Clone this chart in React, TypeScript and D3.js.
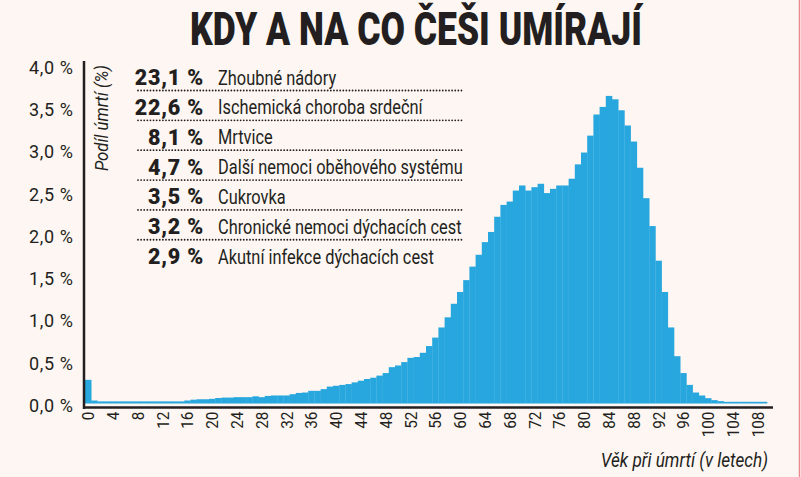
import React, { useEffect, useRef } from 'react';
import * as d3 from 'd3';

// share of deaths (%) by age at death, ages 0..109
const ages: number[] = d3.range(0, 110);
const deathShare: number[] = [
  0.28, 0.035, 0.025, 0.025, 0.025, 0.025, 0.025, 0.025, 0.025, 0.025,
  0.025, 0.025, 0.025, 0.025, 0.025, 0.025, 0.035, 0.045, 0.05, 0.05,
  0.055, 0.065, 0.07, 0.07, 0.075, 0.075, 0.075, 0.085, 0.075, 0.09,
  0.095, 0.095, 0.095, 0.11, 0.125, 0.13, 0.15, 0.15, 0.17, 0.2,
  0.21, 0.22, 0.23, 0.25, 0.27, 0.29, 0.305, 0.33, 0.36, 0.43,
  0.45, 0.49, 0.54, 0.55, 0.6, 0.68, 0.78, 0.9, 1.02, 1.18,
  1.32, 1.46, 1.62, 1.76, 1.91, 2.03, 2.21, 2.35, 2.39, 2.52,
  2.58, 2.52, 2.56, 2.6, 2.49, 2.54, 2.58, 2.58, 2.66, 2.83,
  2.97, 3.17, 3.42, 3.51, 3.64, 3.6, 3.47, 3.29, 3.1, 2.79,
  2.43, 2.1, 1.69, 1.32, 0.9, 0.56, 0.36, 0.22, 0.13, 0.095,
  0.063, 0.04, 0.028, 0.02, 0.02, 0.02, 0.02, 0.02, 0.02, 0.02,
];

const yTicks = [0, 0.5, 1, 1.5, 2, 2.5, 3, 3.5, 4];
const xTicks = [0, 4, 8, 12, 16, 20, 24, 28, 32, 36, 40, 44, 48, 52, 56, 60, 64, 68, 72, 76, 80, 84, 88, 92, 96, 100, 104, 108];

const causeShares = [23.1, 22.6, 8.1, 4.7, 3.5, 3.2, 2.9];
const causeNames = [
  'Zhoubné nádory',
  'Ischemická choroba srdeční',
  'Mrtvice',
  'Další nemoci oběhového systému',
  'Cukrovka',
  'Chronické nemoci dýchacích cest',
  'Akutní infekce dýchacích cest',
];

const W = 801;
const H = 477;
const ink = '#231f20';
const barColor = '#27a7de';
const font = 'Roboto, "Open Sans", sans-serif';

const pct = (v: number) => d3.format('.1f')(v).replace('.', ',') + ' %';

const App = () => {
  const xAxisRef = useRef<SVGGElement>(null);
  const yAxisRef = useRef<SVGGElement>(null);

  const x = d3.scaleBand<number>().domain(ages).range([85, 767]).padding(0);
  const y = d3.scaleLinear().domain([0, 4]).range([403.5, 65.5]);

  useEffect(() => {
    const ya = d3.select(yAxisRef.current);
    ya.selectAll('*').remove();
    ya.call(d3.axisLeft(y).tickValues(yTicks).tickSize(0).tickPadding(0).tickFormat(d => pct(+d)));
    ya.select('.domain').remove();
    ya.selectAll('text')
      .attr('fill', ink)
      .attr('font-family', font)
      .attr('font-size', 18)
      .attr('dy', '0.36em')
      .attr('textLength', 44)
      .attr('lengthAdjust', 'spacing');

    const xa = d3.select(xAxisRef.current);
    xa.selectAll('*').remove();
    xa.call(d3.axisBottom(x).tickValues(xTicks).tickSize(0).tickPadding(0));
    xa.select('.domain').remove();
    xa.selectAll('text')
      .attr('fill', ink)
      .attr('font-family', font)
      .attr('font-size', 17)
      .attr('transform', 'rotate(-90) scale(0.9,1)')
      .attr('text-anchor', 'end')
      .attr('x', -4)
      .attr('y', 0)
      .attr('dy', '0.36em');
  }, []);

  const rowY = (i: number) => 85 + i * 29.85;

  return (
    <svg width={W} height={H} style={{ position: 'absolute', left: 0, top: 0 }}>
      <rect width={W} height={H} fill="#fdf6f2" />
      <line x1={799.5} x2={799.5} y1={0} y2={H} stroke="#e98a8e" strokeWidth={1.5} />

      <text x={416} y={45} textAnchor="middle" fontFamily={font} fontWeight={900}
        fontSize={47} fill={ink} textLength={452} lengthAdjust="spacingAndGlyphs">
        KDY A NA CO ČEŠI UMÍRAJÍ
      </text>

      {deathShare.map((v, i) => (
        <rect key={i} x={x(ages[i])!} width={x.bandwidth() + 0.3} y={y(v)} height={y(0) - y(v)} fill={barColor} />
      ))}

      <line x1={84} x2={84} y1={61} y2={409} stroke={ink} strokeWidth={2.5} />
      <line x1={83} x2={773} y1={407.5} y2={407.5} stroke={ink} strokeWidth={2.5} />

      <g ref={yAxisRef} transform="translate(73,1.5)" />
      <g ref={xAxisRef} transform="translate(0,408)" />

      <text transform="translate(108,118) rotate(-90) scale(0.88,1)" textAnchor="middle" fontFamily={font}
        fontStyle="italic" fontSize={19} fill={ink}>
        Podíl úmrtí (%)
      </text>
      <text transform="translate(768,467) scale(0.88,1)" textAnchor="end" fontFamily={font}
        fontStyle="italic" fontSize={19.5} fill={ink}>
        Věk při úmrtí (v letech)
      </text>

      {causeShares.map((v, i) => (
        <g key={i}>
          <text x={204} y={rowY(i)} textAnchor="end" fontFamily={font} fontWeight={900} fontSize={21.5}
            letterSpacing={0.8} fill={ink}>
            {pct(v)}
          </text>
          <text transform={`translate(218,${rowY(i) - 0.5}) scale(0.84,1)`} fontFamily={font} fontSize={19.5} fill={ink}>
            {causeNames[i]}
          </text>
          {i < causeShares.length - 1 && (
            <line x1={138} x2={463} y1={rowY(i) + 5.5} y2={rowY(i) + 5.5} stroke={ink}
              strokeWidth={1.8} strokeDasharray="0.01 3.1" strokeLinecap="round" />
          )}
        </g>
      ))}
    </svg>
  );
};

export default App;
